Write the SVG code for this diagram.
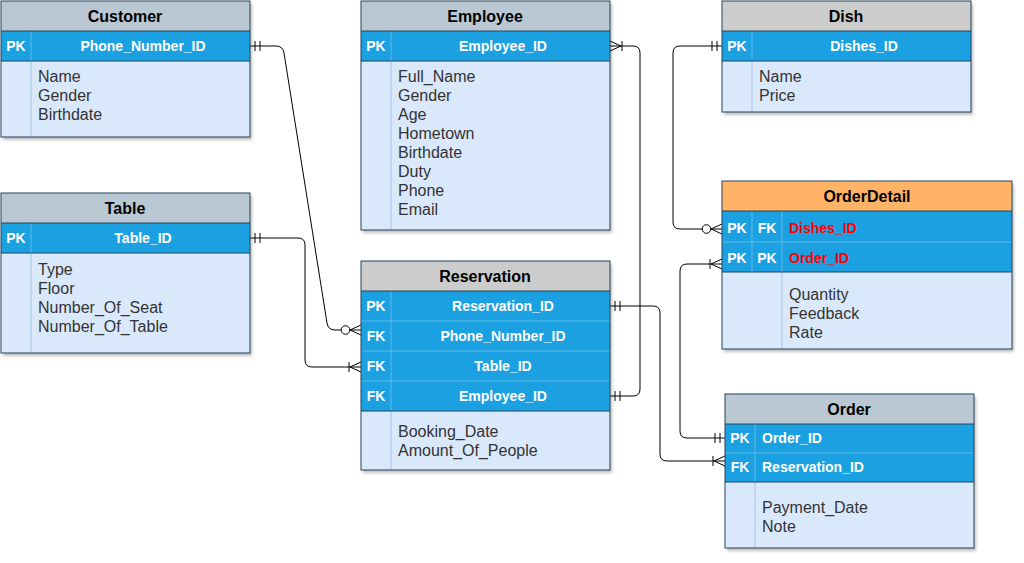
<svg xmlns="http://www.w3.org/2000/svg" width="1024" height="563" viewBox="0 0 1024 563">
<style>
.bg{fill:#DAE8FC;stroke:none}
.hdr{fill:#BAC8D3}
.hdr2{fill:#CCCCCC}
.hdr3{fill:#FFB366}
.key{fill:#1BA1E2}
.frame{fill:none;stroke:#23445D;stroke-width:1}
.sep{stroke:#23445D;stroke-width:1}
.ksep{stroke:#5DBAE9;stroke-width:1}
.bsep{stroke:#A9C4EB;stroke-width:1}
.title{font-family:"Liberation Sans",Arial,sans-serif;font-size:16px;font-weight:bold;fill:#000;text-anchor:middle}
.k{font-family:"Liberation Sans",Arial,sans-serif;font-size:14px;font-weight:bold;fill:#FFFFFF;text-anchor:middle}
.kl{font-family:"Liberation Sans",Arial,sans-serif;font-size:14px;font-weight:bold;fill:#FFFFFF}
.kr{font-family:"Liberation Sans",Arial,sans-serif;font-size:14px;font-weight:bold;fill:#FF0000}
.f{font-family:"Liberation Sans",Arial,sans-serif;font-size:16px;fill:#333333}
.conn{fill:none;stroke:#000;stroke-width:1}
.mk{fill:none;stroke:#000;stroke-width:1}
</style>
<defs>
<filter id="sh" x="-10%" y="-10%" width="130%" height="130%">
<feDropShadow dx="2" dy="3" stdDeviation="1.5" flood-color="#000" flood-opacity="0.25"/>
</filter>
<marker id="mandOne" markerUnits="userSpaceOnUse" viewBox="-25 -10 30 20" refX="0" refY="0" markerWidth="30" markerHeight="20" orient="auto-start-reverse">
<path class="mk" d="M-5,-5 L-5,5 M-10,-5 L-10,5"/>
</marker>
<marker id="oneMany" markerUnits="userSpaceOnUse" viewBox="-25 -10 30 20" refX="0" refY="0" markerWidth="30" markerHeight="20" orient="auto-start-reverse">
<path class="mk" d="M-11,0 L0,-5 M-11,0 L0,5 M-12,-5 L-12,5"/>
</marker>
<marker id="zeroMany" markerUnits="userSpaceOnUse" viewBox="-25 -10 30 20" refX="0" refY="0" markerWidth="30" markerHeight="20" orient="auto-start-reverse">
<path class="mk" d="M-11,0 L0,-5 M-11,0 L0,5"/>
<circle cx="-15.5" cy="0" r="4.3" fill="#FFFFFF" stroke="#000" stroke-width="1"/>
</marker>
</defs>

<g id="connectors">
<path class="conn" d="M250,46 L276,46 Q283,46 284,53 L327,323 Q328,330 335,330 L361,330" marker-start="url(#mandOne)" marker-end="url(#zeroMany)"/>
<path class="conn" d="M250,238 L298,238 Q305,238 305,245 L305,360 Q305,367 312,367 L361,367" marker-start="url(#mandOne)" marker-end="url(#oneMany)"/>
<path class="conn" d="M610,46 L633,46 Q640,46 640,53 L640,389 Q640,396 633,396 L610,396" marker-start="url(#oneMany)" marker-end="url(#mandOne)"/>
<path class="conn" d="M722,46 L680,46 Q673,46 673,53 L673,222 Q673,229 680,229 L722,229" marker-start="url(#mandOne)" marker-end="url(#zeroMany)"/>
<path class="conn" d="M610,306 L653,306 Q660,306 660,313 L660,454 Q660,461 667,461 L725,461" marker-start="url(#mandOne)" marker-end="url(#oneMany)"/>
<path class="conn" d="M725,438 L687,438 Q680,438 680,431 L680,271 Q680,264 687,264 L722,264" marker-start="url(#mandOne)" marker-end="url(#oneMany)"/>
</g>

<g id="customer">
<rect class="bg" x="1" y="1" width="249" height="136" filter="url(#sh)"/>
<rect class="hdr" x="1" y="1" width="249" height="30"/>
<rect class="key" x="1" y="31" width="249" height="30"/>
<line class="ksep" x1="31" y1="31" x2="31" y2="61"/>
<line class="bsep" x1="31" y1="61" x2="31" y2="137"/>
<line class="sep" x1="1" y1="31" x2="250" y2="31"/>
<line class="sep" x1="1" y1="61" x2="250" y2="61"/>
<rect class="frame" x="1" y="1" width="249" height="136"/>
<text class="title" x="125" y="22">Customer</text>
<text class="k" x="16" y="51">PK</text>
<text class="k" x="143" y="51">Phone_Number_ID</text>
<text class="f" x="38" y="82">Name</text>
<text class="f" x="38" y="101">Gender</text>
<text class="f" x="38" y="120">Birthdate</text>
</g>

<g id="table">
<rect class="bg" x="1" y="193" width="249" height="160" filter="url(#sh)"/>
<rect class="hdr" x="1" y="193" width="249" height="30"/>
<rect class="key" x="1" y="223" width="249" height="30"/>
<line class="ksep" x1="31" y1="223" x2="31" y2="253"/>
<line class="bsep" x1="31" y1="253" x2="31" y2="353"/>
<line class="sep" x1="1" y1="223" x2="250" y2="223"/>
<line class="sep" x1="1" y1="253" x2="250" y2="253"/>
<rect class="frame" x="1" y="193" width="249" height="160"/>
<text class="title" x="125" y="214">Table</text>
<text class="k" x="16" y="243">PK</text>
<text class="k" x="143" y="243">Table_ID</text>
<text class="f" x="38" y="275">Type</text>
<text class="f" x="38" y="294">Floor</text>
<text class="f" x="38" y="313">Number_Of_Seat</text>
<text class="f" x="38" y="332">Number_Of_Table</text>
</g>

<g id="employee">
<rect class="bg" x="361" y="1" width="249" height="229" filter="url(#sh)"/>
<rect class="hdr" x="361" y="1" width="249" height="30"/>
<rect class="key" x="361" y="31" width="249" height="30"/>
<line class="ksep" x1="391" y1="31" x2="391" y2="61"/>
<line class="bsep" x1="391" y1="61" x2="391" y2="230"/>
<line class="sep" x1="361" y1="31" x2="610" y2="31"/>
<line class="sep" x1="361" y1="61" x2="610" y2="61"/>
<rect class="frame" x="361" y="1" width="249" height="229"/>
<text class="title" x="485" y="22">Employee</text>
<text class="k" x="376" y="51">PK</text>
<text class="k" x="503" y="51">Employee_ID</text>
<text class="f" x="398" y="82">Full_Name</text>
<text class="f" x="398" y="101">Gender</text>
<text class="f" x="398" y="120">Age</text>
<text class="f" x="398" y="139">Hometown</text>
<text class="f" x="398" y="158">Birthdate</text>
<text class="f" x="398" y="177">Duty</text>
<text class="f" x="398" y="196">Phone</text>
<text class="f" x="398" y="215">Email</text>
</g>

<g id="reservation">
<rect class="bg" x="361" y="261" width="249" height="209" filter="url(#sh)"/>
<rect class="hdr2" x="361" y="261" width="249" height="30"/>
<rect class="key" x="361" y="291" width="249" height="120"/>
<line class="ksep" x1="391" y1="291" x2="391" y2="411"/>
<line class="ksep" x1="361" y1="321" x2="610" y2="321"/>
<line class="ksep" x1="361" y1="351" x2="610" y2="351"/>
<line class="ksep" x1="361" y1="381" x2="610" y2="381"/>
<line class="bsep" x1="391" y1="411" x2="391" y2="470"/>
<line class="sep" x1="361" y1="291" x2="610" y2="291"/>
<line class="sep" x1="361" y1="411" x2="610" y2="411"/>
<rect class="frame" x="361" y="261" width="249" height="209"/>
<text class="title" x="485" y="282">Reservation</text>
<text class="k" x="376" y="311">PK</text>
<text class="k" x="503" y="311">Reservation_ID</text>
<text class="k" x="376" y="341">FK</text>
<text class="k" x="503" y="341">Phone_Number_ID</text>
<text class="k" x="376" y="371">FK</text>
<text class="k" x="503" y="371">Table_ID</text>
<text class="k" x="376" y="401">FK</text>
<text class="k" x="503" y="401">Employee_ID</text>
<text class="f" x="398" y="437">Booking_Date</text>
<text class="f" x="398" y="456">Amount_Of_People</text>
</g>

<g id="dish">
<rect class="bg" x="722" y="1" width="249" height="111" filter="url(#sh)"/>
<rect class="hdr2" x="722" y="1" width="249" height="30"/>
<rect class="key" x="722" y="31" width="249" height="30"/>
<line class="ksep" x1="752" y1="31" x2="752" y2="61"/>
<line class="bsep" x1="752" y1="61" x2="752" y2="112"/>
<line class="sep" x1="722" y1="31" x2="971" y2="31"/>
<line class="sep" x1="722" y1="61" x2="971" y2="61"/>
<rect class="frame" x="722" y="1" width="249" height="111"/>
<text class="title" x="846" y="22">Dish</text>
<text class="k" x="737" y="51">PK</text>
<text class="k" x="864" y="51">Dishes_ID</text>
<text class="f" x="759" y="82">Name</text>
<text class="f" x="759" y="101">Price</text>
</g>

<g id="orderdetail">
<rect class="bg" x="722" y="181" width="290" height="168" filter="url(#sh)"/>
<rect class="hdr3" x="722" y="181" width="290" height="30"/>
<rect class="key" x="722" y="211" width="290" height="61"/>
<line class="ksep" x1="752" y1="211" x2="752" y2="272"/>
<line class="ksep" x1="782" y1="211" x2="782" y2="272"/>
<line class="ksep" x1="722" y1="242" x2="1012" y2="242"/>
<line class="bsep" x1="782" y1="272" x2="782" y2="349"/>
<line class="sep" x1="722" y1="211" x2="1012" y2="211"/>
<line class="sep" x1="722" y1="272" x2="1012" y2="272"/>
<rect class="frame" x="722" y="181" width="290" height="168"/>
<text class="title" x="867" y="202">OrderDetail</text>
<text class="k" x="737" y="233">PK</text>
<text class="k" x="767" y="233">FK</text>
<text class="kr" x="789" y="233">Dishes_ID</text>
<text class="k" x="737" y="263">PK</text>
<text class="k" x="767" y="263">PK</text>
<text class="kr" x="789" y="263">Order_ID</text>
<text class="f" x="789" y="300">Quantity</text>
<text class="f" x="789" y="319">Feedback</text>
<text class="f" x="789" y="338">Rate</text>
</g>

<g id="order">
<rect class="bg" x="725" y="394" width="249" height="154" filter="url(#sh)"/>
<rect class="hdr" x="725" y="394" width="249" height="30"/>
<rect class="key" x="725" y="424" width="249" height="58"/>
<line class="ksep" x1="755" y1="424" x2="755" y2="482"/>
<line class="ksep" x1="725" y1="453" x2="974" y2="453"/>
<line class="bsep" x1="755" y1="482" x2="755" y2="548"/>
<line class="sep" x1="725" y1="424" x2="974" y2="424"/>
<line class="sep" x1="725" y1="482" x2="974" y2="482"/>
<rect class="frame" x="725" y="394" width="249" height="154"/>
<text class="title" x="849" y="415">Order</text>
<text class="k" x="740" y="443">PK</text>
<text class="kl" x="762" y="443">Order_ID</text>
<text class="k" x="740" y="472">FK</text>
<text class="kl" x="762" y="472">Reservation_ID</text>
<text class="f" x="762" y="513">Payment_Date</text>
<text class="f" x="762" y="532">Note</text>
</g>
</svg>
